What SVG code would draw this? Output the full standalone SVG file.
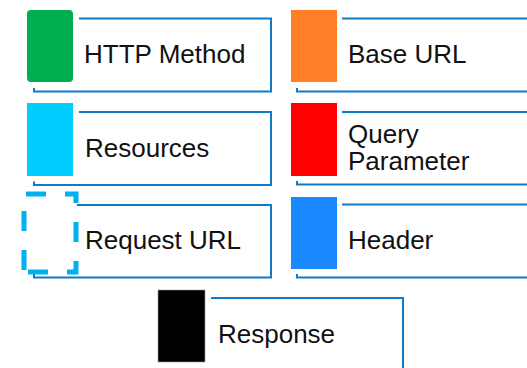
<svg xmlns="http://www.w3.org/2000/svg" width="527" height="368" viewBox="0 0 527 368">
<style>
.frame{fill:none;stroke:#0f7ac6;stroke-width:2}
.lbl{font-family:"Liberation Sans",Arial,sans-serif;font-size:26px;fill:#111}
</style>
<rect width="527" height="368" fill="#fff"/>
<g id="http-method">
<path class="frame" d="M79,18.5 H271 V91.5 H34 V88"/>
<rect x="27" y="10" width="46" height="72" rx="4" fill="#00b050"/>
<text class="lbl" x="84" y="63">HTTP Method</text>
</g>
<g id="base-url">
<path class="frame" d="M342,18.5 H540 V91.5 H297 V88"/>
<rect x="291" y="10" width="46" height="72" fill="#ff7f27"/>
<text class="lbl" x="348" y="62.5">Base URL</text>
</g>
<g id="resources">
<path class="frame" d="M79,112 H271 V185 H34 V181.5"/>
<rect x="27" y="103" width="46" height="73" fill="#00ccff"/>
<text class="lbl" x="85" y="156.5">Resources</text>
</g>
<g id="query-parameter">
<path class="frame" d="M342,112 H540 V184.5 H297 V181"/>
<rect x="291" y="103" width="46" height="73" fill="#ff0000"/>
<text class="lbl" x="348" y="143">Query</text>
<text class="lbl" x="348" y="170">Parameter</text>
</g>
<g id="request-url">
<path class="frame" d="M77,205 H271 V277.5 H34 V274"/>
<path d="M24,272 V194 H76 V272 Z" fill="none" stroke="#00b0f0" stroke-width="5" stroke-dasharray="20 19" stroke-dashoffset="37"/>
<text class="lbl" x="85" y="249">Request URL</text>
</g>
<g id="header">
<path class="frame" d="M342,204.5 H540 V277.5 H297 V274"/>
<rect x="291" y="197" width="46" height="72" fill="#1a88ff"/>
<text class="lbl" x="348" y="249">Header</text>
</g>
<g id="response">
<path class="frame" d="M211,298 H403 V372"/>
<rect x="158" y="290" width="47" height="72" fill="#000" stroke="#999" stroke-width="0.6"/>
<text class="lbl" x="218" y="343">Response</text>
</g>
</svg>
